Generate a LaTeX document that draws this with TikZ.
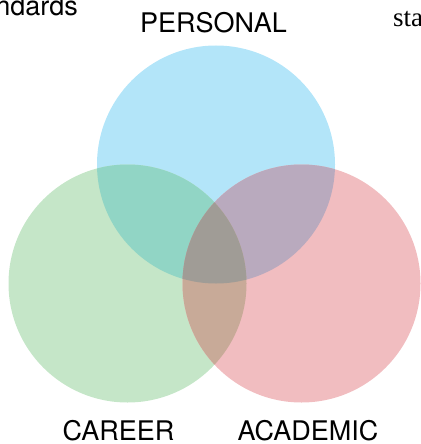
\documentclass[tikz,border=0pt]{standalone}
\usepackage{fontspec}
\setmainfont{TeX Gyre Heros}
\newfontfamily\serifside{Liberation Serif}
\usepackage{xcolor}
\usepackage{tikz}

\definecolor{personalblue}{RGB}{179,229,249}
\definecolor{careergreen}{RGB}{197,230,200}
\definecolor{academicpink}{RGB}{241,189,192}
\definecolor{pcteal}{RGB}{145,213,197}
\definecolor{papurple}{RGB}{185,170,190}
\definecolor{cabrown}{RGB}{200,170,152}
\definecolor{allgrey}{RGB}{160,156,150}

\tikzset{
  setlabel/.style={anchor=base,inner sep=0pt,font=\fontsize{27}{30}\selectfont},
}

\begin{document}
\begin{tikzpicture}[x=1pt,y=-1pt]
      \useasboundingbox (0,0) rectangle (420,444);
      \def\rad{119}
      \coordinate (p) at (216,164.5);
      \coordinate (c) at (127.5,283.5);
      \coordinate (a) at (301.5,283.5);
      % the three sets
      \fill[personalblue] (p) circle (\rad);
      \fill[careergreen]  (c) circle (\rad);
      \fill[academicpink] (a) circle (\rad);
      % pairwise overlaps
      \begin{scope}
        \clip (p) circle (\rad);
        \fill[pcteal] (c) circle (\rad);
        \fill[papurple] (a) circle (\rad);
      \end{scope}
      \begin{scope}
        \clip (c) circle (\rad);
        \fill[cabrown] (a) circle (\rad);
        \clip (a) circle (\rad);
        \fill[allgrey] (p) circle (\rad);
      \end{scope}
      % labels
      \node[setlabel] (personal) at (213.5,33) {PERSONAL};
      \node[setlabel] (career)   at (118.5,440) {CAREER};
      \node[setlabel] (academic) at (308,440) {ACADEMIC};
      % text running off the edges
      \node[setlabel,anchor=base east] (leftword) at (78,16) {standards};
      \node[setlabel,anchor=base west] (rightword) at (393,27) {\serifside standards};
\end{tikzpicture}
\end{document}
